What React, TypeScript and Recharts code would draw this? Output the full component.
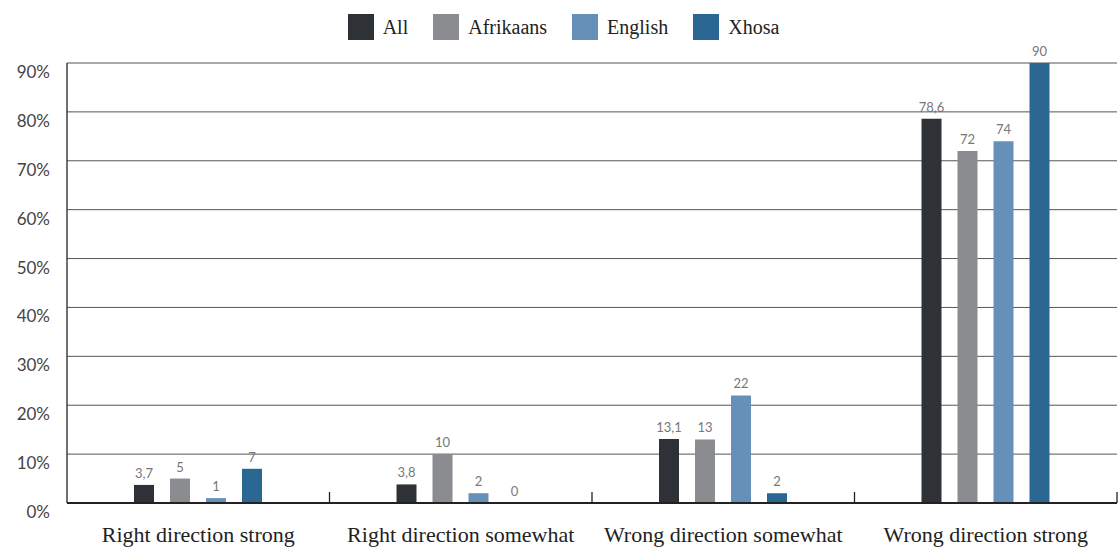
import React from 'react';
import { BarChart, Bar, XAxis, YAxis, CartesianGrid, LabelList } from 'recharts';

const categories = ['Right direction strong', 'Right direction somewhat', 'Wrong direction somewhat', 'Wrong direction strong'];
const seriesNames = ['All', 'Afrikaans', 'English', 'Xhosa'];
const allValues = [3.7, 3.8, 13.1, 78.6];
const afrikaansValues = [5, 10, 13, 72];
const englishValues = [1, 2, 22, 74];
const xhosaValues = [7, 0, 2, 90];
const yTicks = [0, 10, 20, 30, 40, 50, 60, 70, 80, 90];
const colors = ['#2e3236', '#8a8c90', '#6690b8', '#2a6893'];

const data = categories.map((c, i) => ({
  name: c,
  All: allValues[i],
  Afrikaans: afrikaansValues[i],
  English: englishValues[i],
  Xhosa: xhosaValues[i],
}));

const W = 1118;
const H = 547;
const LEFT = 67;
const RIGHT = 1;
const HALF_BAND = (W - LEFT - RIGHT) / categories.length / 2;

const XTick = (props: any) => {
  const { x, y, payload } = props;
  return (
    <g>
      <line x1={x + HALF_BAND} x2={x + HALF_BAND} y1={y - 11} y2={y} stroke="#222" strokeWidth={1.3} />
      <text x={x} y={y + 39} textAnchor="middle" fontFamily="'Liberation Serif', serif" fontSize={22} fill="#222">
        {payload.value}
      </text>
    </g>
  );
};

const YTick = (props: any) => {
  const { x, y, payload } = props;
  return (
    <text x={x} y={y + 15} textAnchor="end" fontFamily="Lato, sans-serif" fontSize={17} fill="#444">
      {payload.value}%
    </text>
  );
};

const fmt = (v: any) => String(v).replace('.', ',');

const ValueLabel = (props: any) => {
  const { x, y, width, value } = props;
  return (
    <text
      x={x + width / 2}
      y={y - 7}
      textAnchor="middle"
      fontFamily="Lato, sans-serif"
      fontSize={13}
      fill="#777"
    >
      {fmt(value)}
    </text>
  );
};

export default function App() {
  return (
    <div style={{ position: 'absolute', left: 0, top: 0, width: W, height: H, background: '#fff' }}>
      <div
        style={{
          position: 'absolute',
          top: 14,
          left: 0,
          width: W,
          display: 'flex',
          justifyContent: 'center',
          paddingLeft: 34,
          boxSizing: 'border-box',
          fontFamily: "'Liberation Serif', serif",
          fontSize: 20,
          color: '#222',
        }}
      >
        {seriesNames.map((n, i) => (
          <div key={n} style={{ display: 'flex', alignItems: 'center', marginRight: 25 }}>
            <div style={{ width: 26, height: 26, background: colors[i], marginRight: 9 }} />
            <span>{n}</span>
          </div>
        ))}
      </div>
      <BarChart
        width={W}
        height={H}
        data={data}
        margin={{ top: 63, right: RIGHT, bottom: 0, left: 0 }}
        barSize={20}
        barGap={16}
      >
        <CartesianGrid vertical={false} stroke="#555" strokeWidth={1} />
        <XAxis
          dataKey="name"
          height={44}
          tickSize={0}
          tickMargin={0}
          tick={<XTick />}
          axisLine={{ stroke: '#222', strokeWidth: 2 }}
          interval={0}
        />
        <YAxis
          width={LEFT}
          domain={[0, 90]}
          ticks={yTicks}
          tickSize={0}
          tickMargin={17}
          tick={<YTick />}
          axisLine={{ stroke: '#222', strokeWidth: 1.3 }}
          tickLine={false}
        />
        {seriesNames.map((n, i) => (
          <Bar key={n} dataKey={n} fill={colors[i]} isAnimationActive={false} minPointSize={0.1}>
            <LabelList dataKey={n} content={<ValueLabel />} />
          </Bar>
        ))}
      </BarChart>
    </div>
  );
}
